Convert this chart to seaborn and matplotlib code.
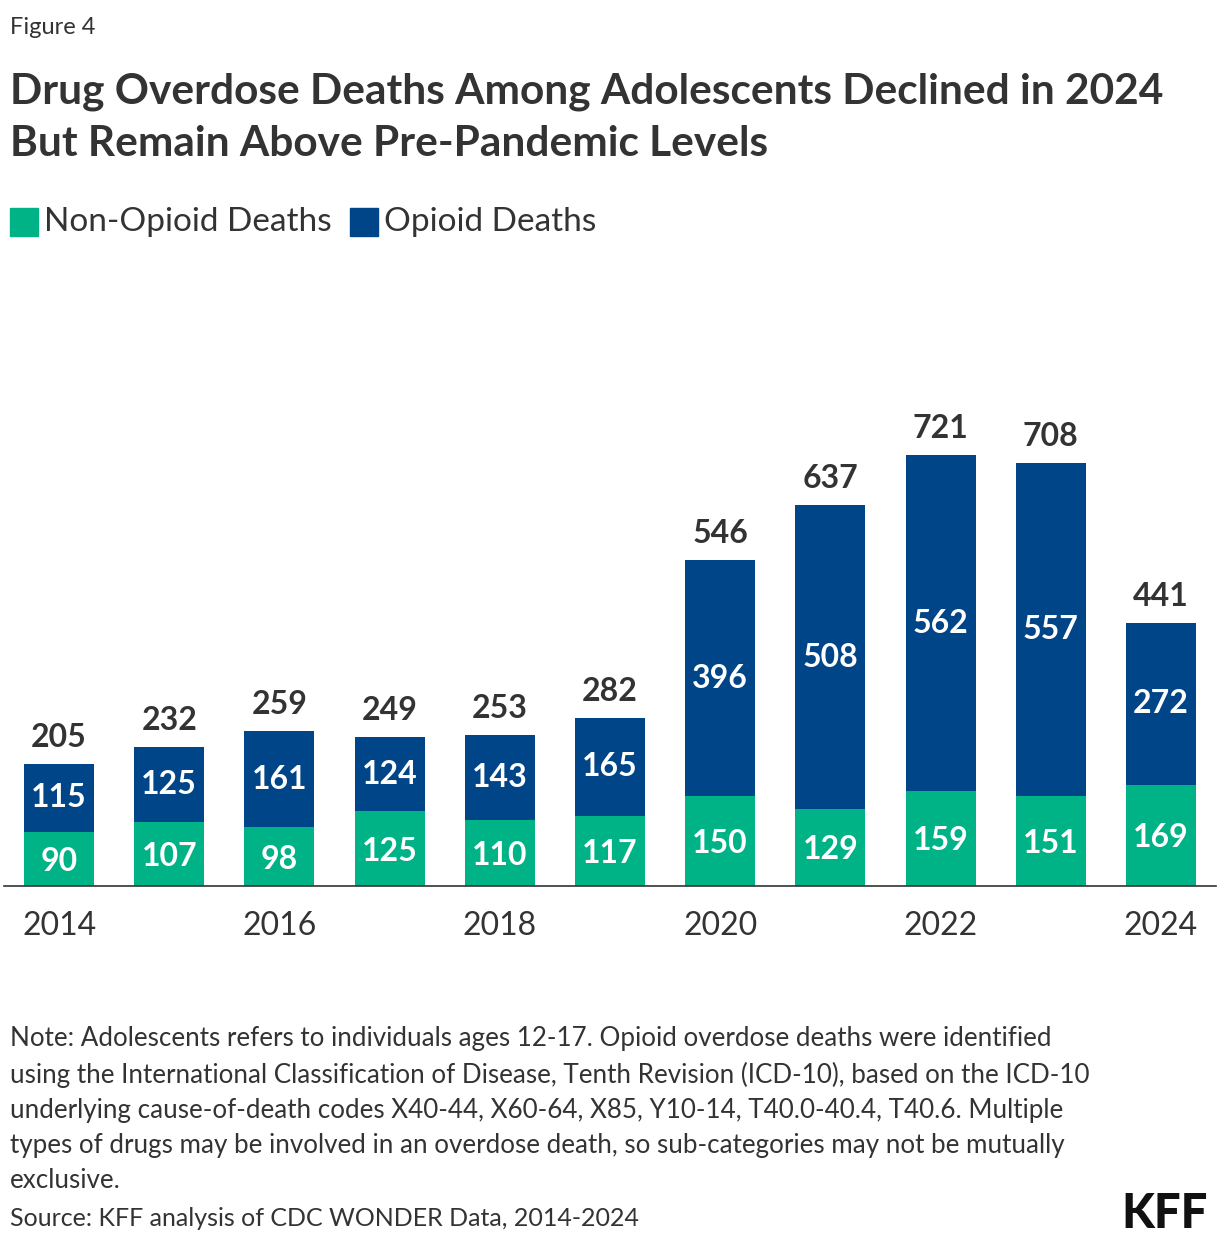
import numpy as np
import pandas as pd
import matplotlib
matplotlib.use("Agg")
import matplotlib.pyplot as plt
import seaborn as sns

years = [str(y) for y in range(2014, 2025)]
non_opioid = [90, 107, 98, 125, 110, 117, 150, 129, 159, 151, 169]
opioid = [115, 125, 161, 124, 143, 165, 396, 508, 562, 557, 272]
totals = [205, 232, 259, 249, 253, 282, 546, 637, 721, 708, 441]
tick_labels = ["2014", "", "2016", "", "2018", "", "2020", "", "2022", "", "2024"]

GREEN = "#00b386"
BLUE = "#004587"

sns.set_theme(style="white")
plt.rcParams["font.family"] = ["Lato", "DejaVu Sans"]

df = pd.DataFrame({"year": years, "non": non_opioid, "opi": opioid, "total": totals})

fig = plt.figure(figsize=(12.2, 12.46), dpi=100)
ax = fig.add_axes([4 / 1220, 1 - 886 / 1246, 1212 / 1220, 478 / 1246])

sns.barplot(data=df, x="year", y="total", color=BLUE, width=0.636, ax=ax,
            saturation=1, linewidth=0)
sns.barplot(data=df, x="year", y="non", color=GREEN, width=0.636, ax=ax,
            saturation=1, linewidth=0)

for i in range(len(years)):
    ax.text(i, non_opioid[i] / 2 - 4, str(non_opioid[i]), ha="center", va="center",
            color="white", fontsize=23, fontweight="bold")
    ax.text(i, non_opioid[i] + opioid[i] / 2, str(opioid[i]), ha="center", va="center",
            color="white", fontsize=23, fontweight="bold")
    ax.text(i, totals[i] + 20, str(totals[i]), ha="center", va="bottom",
            color="#333333", fontsize=23, fontweight="bold")

ax.set_ylim(0, 800)
ax.set_xlim(-0.5, 10.5)
ax.set_xticks(range(len(years)))
ax.set_xticklabels(tick_labels, fontsize=23, color="#333333")
ax.tick_params(axis="x", length=0, pad=18)
ax.set_yticks([])
ax.set_xlabel("")
ax.set_ylabel("")
for s in ["top", "right", "left"]:
    ax.spines[s].set_visible(False)
ax.spines["bottom"].set_color("#333333")
ax.spines["bottom"].set_linewidth(1.2)

fig.text(10 / 1220, 1 - 28 / 1246, "Figure 4", fontsize=17, color="#333333", va="center")
fig.text(10 / 1220, 1 - 118 / 1246,
         "Drug Overdose Deaths Among Adolescents Declined in 2024\nBut Remain Above Pre-Pandemic Levels",
         fontsize=30.5, fontweight="bold", color="#333333", va="center", linespacing=1.45)

# legend
fig.patches.append(plt.Rectangle((10 / 1220, 1 - 236 / 1246), 28 / 1220, 28 / 1246,
                                 transform=fig.transFigure, color=GREEN))
fig.text(44 / 1220, 1 - 222 / 1246, "Non-Opioid Deaths", fontsize=24, color="#333333", va="center")
fig.patches.append(plt.Rectangle((350 / 1220, 1 - 236 / 1246), 28 / 1220, 28 / 1246,
                                 transform=fig.transFigure, color=BLUE))
fig.text(384 / 1220, 1 - 222 / 1246, "Opioid Deaths", fontsize=24, color="#333333", va="center")

note = ("Note: Adolescents refers to individuals ages 12-17. Opioid overdose deaths were identified\n"
        "using the International Classification of Disease, Tenth Revision (ICD-10), based on the ICD-10\n"
        "underlying cause-of-death codes X40-44, X60-64, X85, Y10-14, T40.0-40.4, T40.6. Multiple\n"
        "types of drugs may be involved in an overdose death, so sub-categories may not be mutually\n"
        "exclusive.")
fig.text(10 / 1220, 1 - 1026 / 1246, note, fontsize=18.7, color="#333333", va="top", linespacing=1.5)
fig.text(10 / 1220, 1 - 1218 / 1246, "Source: KFF analysis of CDC WONDER Data, 2014-2024",
         fontsize=18, color="#333333", va="center")
fig.text(1208 / 1220, 1 - 1214 / 1246, "KFF", fontsize=34, fontweight="black", color="#111111",
         ha="right", va="center")

fig.savefig("out.png", dpi=100)
